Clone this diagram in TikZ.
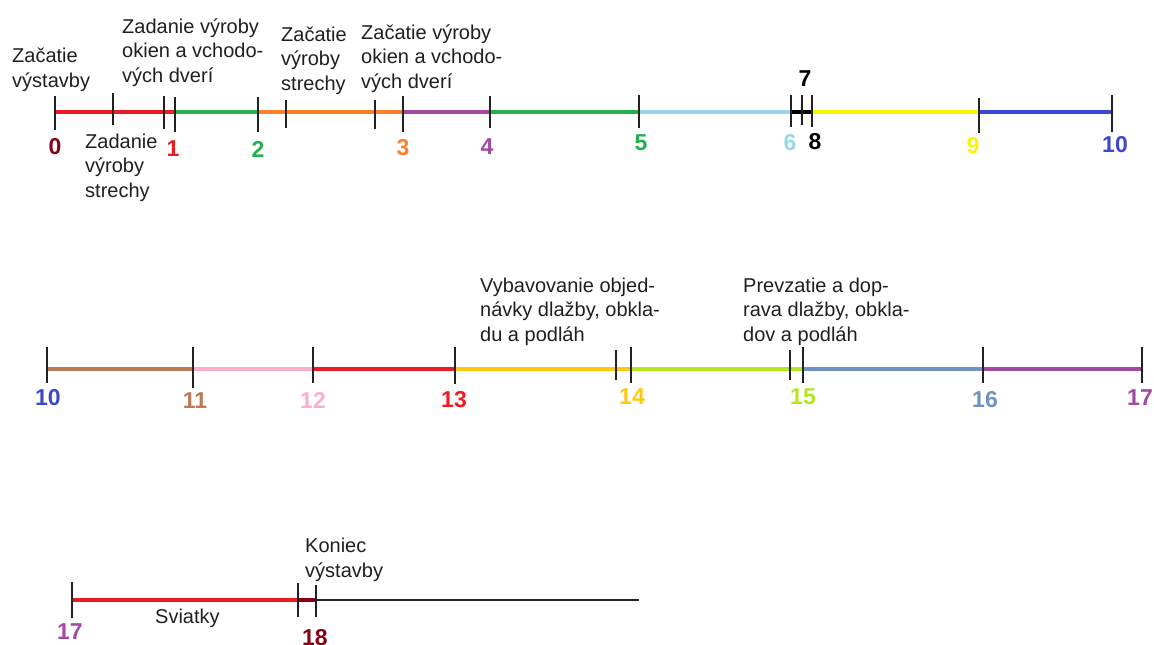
\documentclass[tikz,border=0pt]{standalone}
\usepackage{fontspec}
\setmainfont{Liberation Sans}
\definecolor{cdred}{HTML}{880015}
\definecolor{cred}{HTML}{ED1C24}
\definecolor{cgreen}{HTML}{22B14C}
\definecolor{corange}{HTML}{FF7F27}
\definecolor{cpurple}{HTML}{A349A4}
\definecolor{clblue}{HTML}{99D9EA}
\definecolor{cyellow}{HTML}{FFF200}
\definecolor{cindigo}{HTML}{3F48CC}
\definecolor{cbrown}{HTML}{B97A57}
\definecolor{cpink}{HTML}{FFAEC9}
\definecolor{cgold}{HTML}{FFC90E}
\definecolor{clime}{HTML}{B5E61D}
\definecolor{cbgray}{HTML}{7092BE}
\definecolor{ctick}{HTML}{222222}
\begin{document}
\begin{tikzpicture}[x=1pt,y=-1pt,
  seg/.style={line width=4pt},
  tk/.style={line width=1.4pt, draw=ctick},
  lbl/.style={anchor=base west, inner sep=0pt, align=left, text=black!88,
    font=\fontsize{20}{24.5}\selectfont},
  num/.style={inner sep=0pt, font=\fontsize{23}{23}\selectfont\bfseries}]
\useasboundingbox (0,0) rectangle (1154,645);

% ---------- row 1 ----------
\coordinate (a0) at (55,112);
\coordinate (a1) at (175,112);
\coordinate (a2) at (258,112);
\coordinate (a3) at (403,112);
\coordinate (a4) at (490,112);
\coordinate (a5) at (639,112);
\coordinate (a6) at (791,112);
\coordinate (a8) at (812,112);
\coordinate (a9) at (979,112);
\coordinate (a10) at (1112,112);
\draw[seg, cred] (a0) -- (a1);
\draw[seg, cgreen] (a1) -- (a2);
\draw[seg, corange] (a2) -- (a3);
\draw[seg, cpurple] (a3) -- (a4);
\draw[seg, cgreen] (a4) -- (a5);
\draw[seg, clblue] (a5) -- (a6);
\draw[seg, black] (a6) -- (a8);
\draw[seg, cyellow] (a8) -- (a9);
\draw[seg, cindigo] (a9) -- (a10);
\foreach \x/\a/\b in {55/96/130, 113/93/125, 164/96/129, 175/97/132, 258/97/132,
  286/100/128, 375/100/129, 403/96/132, 490/96/128, 639/95/128,
  791/95/127, 802/95/125, 812/95/127, 979/98/133, 1112/95/132}
  \draw[tk] (\x,\a) -- (\x,\b);
\node[num, text=cdred] (n0) at (55,147) {0};
\node[num, text=cred] (n1) at (173,149) {1};
\node[num, text=cgreen] (n2) at (258,149) {2};
\node[num, text=corange] (n3) at (403,148) {3};
\node[num, text=cpurple] (n4) at (487,147) {4};
\node[num, text=cgreen] (n5) at (641,143) {5};
\node[num, text=clblue] (n6) at (790,143) {6};
\node[num, text=black] (n8) at (815,142) {8};
\node[num, text=black] (n7) at (805,79) {7};
\node[num, text=cyellow] (n9) at (973,146) {9};
\node[num, text=cindigo] (n10) at (1115,145) {10};

% base anchor = baseline of last line
\node[lbl] (t1) at (12,87) {Začatie\\výstavby};
\node[lbl] (t2) at (85,197) {Zadanie\\výroby\\strechy};
\node[lbl] (t3) at (122,82) {Zadanie výroby\\okien a vchodo-\\vých dverí};
\node[lbl] (t4) at (281,90) {Začatie\\výroby\\strechy};
\node[lbl] (t5) at (361,88) {Začatie výroby\\okien a vchodo-\\vých dverí};

% ---------- row 2 ----------
\coordinate (b10) at (47,369);
\coordinate (b11) at (193,369);
\coordinate (b12) at (313,369);
\coordinate (b13) at (455,369);
\coordinate (b14) at (631,369);
\coordinate (b15) at (803,369);
\coordinate (b16) at (983,369);
\coordinate (b17) at (1142,369);
\draw[seg, cbrown] (b10) -- (b11);
\draw[seg, cpink] (b11) -- (b12);
\draw[seg, cred] (b12) -- (b13);
\draw[seg, cgold] (b13) -- (b14);
\draw[seg, clime] (b14) -- (b15);
\draw[seg, cbgray] (b15) -- (b16);
\draw[seg, cpurple] (b16) -- (b17);
\foreach \x/\a/\b in {47/347/383, 193/347/388, 313/347/383, 455/347/384,
  616/350/380, 631/347/383, 790/350/380, 803/347/383, 983/347/383, 1142/347/383}
  \draw[tk] (\x,\a) -- (\x,\b);
\node[num, text=cindigo] (m10) at (48,398) {10};
\node[num, text=cbrown] (m11) at (195,401) {11};
\node[num, text=cpink] (m12) at (313,400) {12};
\node[num, text=cred] (m13) at (454,400) {13};
\node[num, text=cgold] (m14) at (632,397) {14};
\node[num, text=clime] (m15) at (803,397) {15};
\node[num, text=cbgray] (m16) at (985,400) {16};
\node[num, text=cpurple] (m17) at (1140,398) {17};

\node[lbl] (u1) at (480,341) {Vybavovanie objed-\\návky dlažby, obkla-\\du a podláh};
\node[lbl] (u2) at (743,341) {Prevzatie a dop-\\rava dlažby, obkla-\\dov a podláh};

% ---------- row 3 ----------
\coordinate (c17) at (72,600);
\coordinate (c18a) at (298,600);
\coordinate (c18) at (316,600);
\coordinate (cend) at (639,600);
\draw[line width=1.2pt, ctick] (c18) -- (cend);
\draw[seg, cred] (c17) -- (c18a);
\draw[seg, cdred] (c18a) -- (c18);
\foreach \x/\a/\b in {72/582/618, 298/583/617, 316/585/617}
  \draw[tk] (\x,\a) -- (\x,\b);
\node[num, text=cpurple] (k17) at (70,632) {17};
\node[num, text=cdred] (k18) at (315,638) {18};
\node[lbl] (v1) at (155,623) {Sviatky};
\node[lbl] (v2) at (305,577) {Koniec\\výstavby};
\end{tikzpicture}
\end{document}
